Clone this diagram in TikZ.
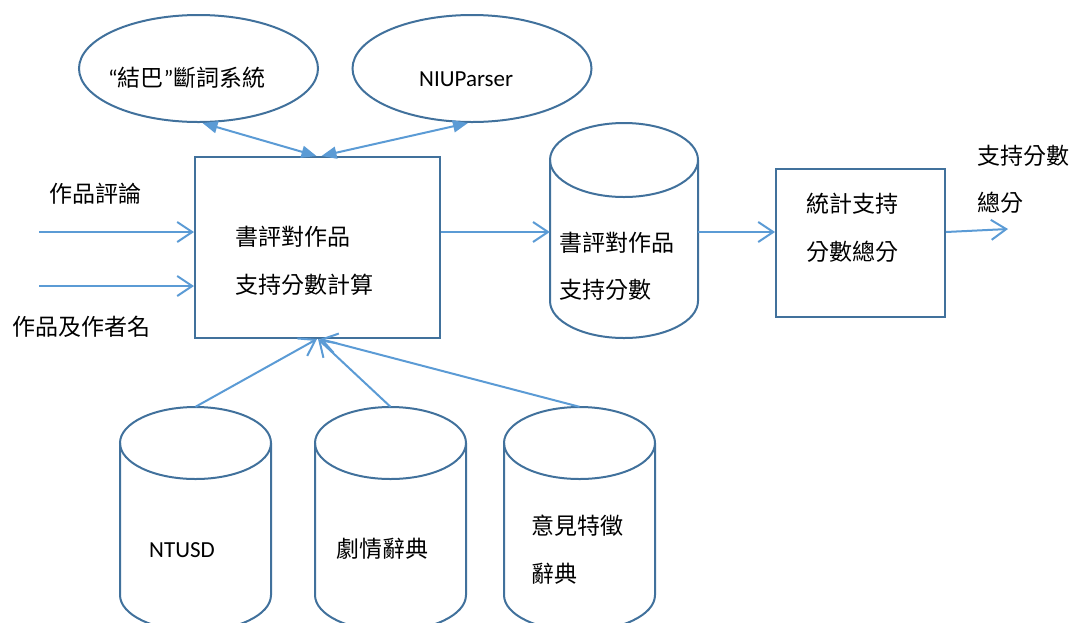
\documentclass[tikz,border=0pt]{standalone}
\usepackage{fontspec}
\setmainfont{Carlito}
\newfontfamily\cjk{Noto Sans CJK TC}
\usetikzlibrary{arrows.meta,shapes.geometric,calc}
\definecolor{edge}{HTML}{41719C}
\definecolor{flow}{HTML}{5B9BD5}

% database cylinder: centre x, top-ellipse centre y, bottom-arc centre y, x radius, y radius
\newcommand\dbshape[5]{%
  \draw[shapeline] (#1-#4,#2) -- (#1-#4,#3)
    arc[start angle=180,end angle=360,x radius=#4pt,y radius=#5pt]
    -- (#1+#4,#2);
  \draw[shapeline] (#1,#2) ellipse[x radius=#4pt,y radius=#5pt];
}

\begin{document}
\begin{tikzpicture}[x=1pt,y=-1pt,
  shapeline/.style={draw=edge,line width=2pt},
  procbox/.style={shapeline,rectangle,inner sep=0pt},
  tool/.style={shapeline,ellipse,inner sep=0pt,minimum width=239pt,minimum height=107pt},
  dbarea/.style={rectangle,inner sep=0pt},
  flowarrow/.style={draw=flow,line width=2pt,-{Straight Barb[length=15pt,width=20pt]}},
  linkarrow/.style={draw=flow,line width=2pt,
    {Triangle[length=15pt,width=12pt]}-{Triangle[length=15pt,width=12pt]}},
  txt/.style={inner sep=0pt,anchor=base west,font=\fontsize{23}{28}\selectfont\cjk},
  latin/.style={inner sep=0pt,anchor=base west,font=\fontsize{23}{28}\selectfont},
]
\useasboundingbox (0,0) rectangle (1075,622);
\clip (0,0) rectangle (1075,622);

% tools
\node[tool] (jieba) at (198.5,68.5) {};
\node[tool] (niu) at (472,68.5) {};
\node[latin] (jiebatxt) at (108,86.7) {“\cjk 結巴\rmfamily ”\cjk 斷詞系統};
\node[latin] (niutxt) at (419,86) {NIUParser};

% main computation box
\node[procbox,minimum width=245pt,minimum height=181pt] (calc) at (317.5,247.5) {};
\node[txt] (calcA) at (235.7,245.4) {書評對作品};
\node[txt] (calcB) at (235.7,293.7) {支持分數計算};

% inputs
\coordinate (inA) at (39,232);
\coordinate (inB) at (39,286);
\node[txt] (inAtxt) at (49,202.7) {作品評論};
\node[txt] (inBtxt) at (12.7,335.7) {作品及作者名};
\draw[flowarrow] (inA) -- ([yshift=15.5pt]calc.west);
\draw[flowarrow] (inB) -- ([yshift=-38.5pt]calc.west);

% score store
\node[dbarea,minimum width=148pt,minimum height=215pt] (score) at (624,230.5) {};
\dbshape{624}{160}{301}{74}{37}
\node[txt] (scoreA) at (558.8,251.2) {書評對作品};
\node[txt] (scoreB) at (558.8,298.7) {支持分數};

% total box
\node[procbox,minimum width=169pt,minimum height=148pt] (total) at (860.5,243) {};
\node[txt] (totalA) at (806,212.7) {統計支持};
\node[txt] (totalB) at (806,260.7) {分數總分};

% output
\coordinate (out) at (1008,229);
\node[txt] (outA) at (977.5,164.7) {支持分數};
\node[txt] (outB) at (977.5,211.7) {總分};

\draw[flowarrow] ([yshift=15.5pt]calc.east) -- ([yshift=-1.5pt]score.west);
\draw[flowarrow] ([yshift=-1.5pt]score.east) -- ([yshift=11pt]total.west);
\draw[flowarrow] ([yshift=11pt]total.east) -- (out);

% tool links
\draw[linkarrow] ([xshift=4pt]jieba.south) -- ([xshift=-1pt]calc.north);
\draw[linkarrow] ([xshift=-4pt]niu.south) -- ([xshift=4pt]calc.north);

% dictionaries
\node[dbarea,minimum width=151pt,minimum height=215pt] (ntusd) at (195.5,514.5) {};
\node[dbarea,minimum width=151pt,minimum height=215pt] (plot) at (390.5,514.5) {};
\node[dbarea,minimum width=151pt,minimum height=215pt] (opin) at (579.5,514.5) {};
\dbshape{195.5}{443}{595}{75.5}{36}
\dbshape{390.5}{443}{595}{75.5}{36}
\dbshape{579.5}{443}{595}{75.5}{36}
\node[latin] (ntusdtxt) at (149,557.7) {NTUSD};
\node[txt] (plottxt) at (336,557.7) {劇情辭典};
\node[txt] (opinA) at (531,534.7) {意見特徵};
\node[txt] (opinB) at (531,582.7) {辭典};

\draw[flowarrow] (ntusd.north) -- ([xshift=-0.5pt]calc.south);
\draw[flowarrow] (plot.north) -- ([xshift=0.5pt]calc.south);
\draw[flowarrow] (opin.north) -- ([xshift=2.5pt]calc.south);
\end{tikzpicture}
\end{document}
